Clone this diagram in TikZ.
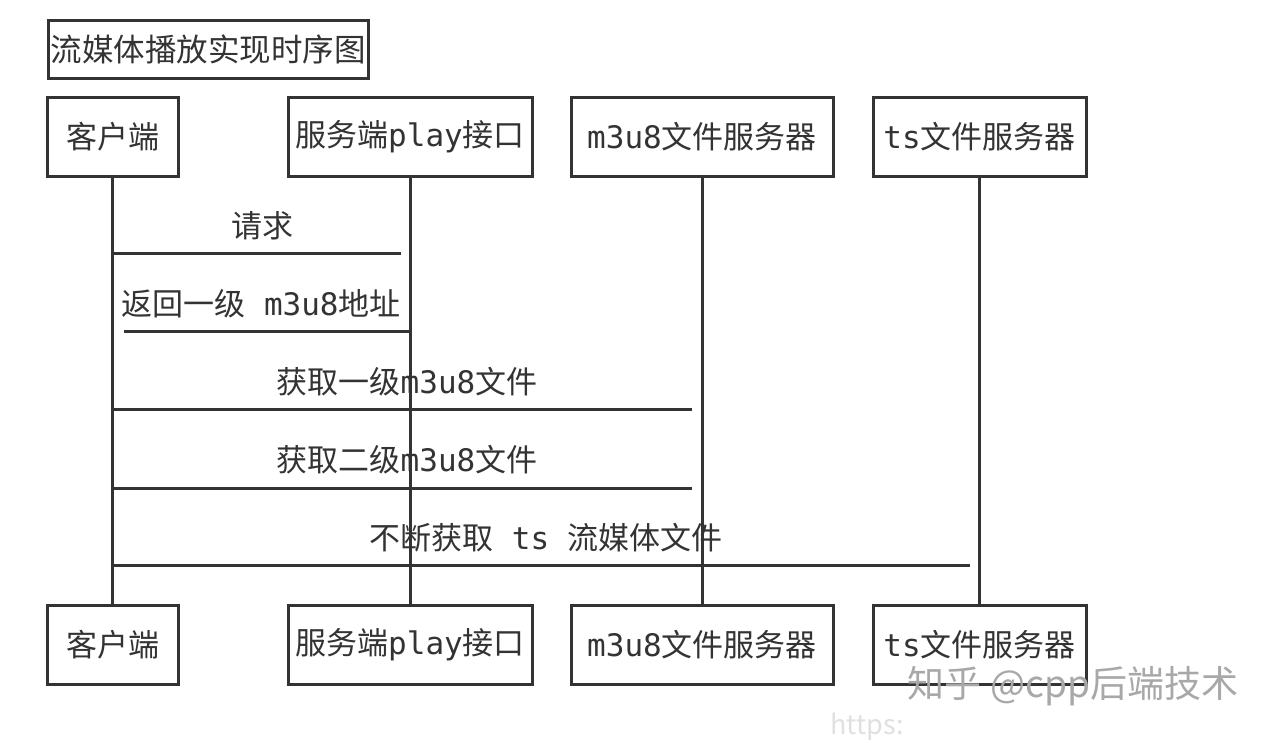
\documentclass[tikz,border=0pt]{standalone}
\usepackage{fontspec}
\setmainfont{Noto Sans CJK SC}
\newfontfamily\monof{DejaVu Sans Mono}
\newcommand{\lt}[1]{{\monof #1}}
\definecolor{ink}{HTML}{333333}
\definecolor{wm}{HTML}{A8A8A8}
\begin{document}
\begin{tikzpicture}[x=1pt,y=-1pt,
  txt/.style={text=ink, font=\fontsize{31}{31}\selectfont},
  box/.style={draw=ink, line width=3pt, inner sep=0pt, txt},
  life/.style={draw=ink, line width=3pt},
  msg/.style={draw=ink, line width=3pt},
  lbl/.style={txt, inner sep=0pt, anchor=center}]
\fill[white] (0,0) rectangle (1276,742);
\useasboundingbox (0,0) rectangle (1276,742);

% title
\node[box, minimum width=320, minimum height=58, font=\fontsize{31.5}{31.5}\selectfont] (title) at (208,49) {流媒体播放实现时序图};

% top participants
\node[box, minimum width=131, minimum height=79] (c1) at (112.5,136.5) {客户端};
\node[box, minimum width=244, minimum height=79] (s1) at (410,136.5) {服务端\lt{play}接口};
\node[box, minimum width=262, minimum height=79] (m1) at (702,136.5) {\lt{m3u8}文件服务器};
\node[box, minimum width=213, minimum height=79] (t1) at (979.5,136.5) {\lt{ts}文件服务器};

% bottom participants
\node[box, minimum width=131, minimum height=79] (c2) at (112.5,644.5) {客户端};
\node[box, minimum width=244, minimum height=79] (s2) at (410,644.5) {服务端\lt{play}接口};
\node[box, minimum width=262, minimum height=79] (m2) at (702,644.5) {\lt{m3u8}文件服务器};
\node[box, minimum width=213, minimum height=79] (t2) at (979.5,644.5) {\lt{ts}文件服务器};

% lifelines
\draw[life] (c1.south) -- (c2.north);
\draw[life] (s1.south) -- (s2.north);
\draw[life] (m1.south) -- (m2.north);
\draw[life] (t1.south) -- (t2.north);

% message end points
\coordinate (a1) at (c1.south |- 0,253);
\coordinate (b1) at ([xshift=-9pt]s1.south |- 0,253);
\coordinate (a2) at ([xshift=11pt]c1.south |- 0,331);
\coordinate (b2) at (s1.south |- 0,331);
\coordinate (a3) at (c1.south |- 0,409);
\coordinate (b3) at ([xshift=-10pt]m1.south |- 0,409);
\coordinate (a4) at (c1.south |- 0,488);
\coordinate (b4) at ([xshift=-10pt]m1.south |- 0,488);
\coordinate (a5) at (c1.south |- 0,565);
\coordinate (b5) at ([xshift=-10pt]t1.south |- 0,565);

\draw[msg] (a1) -- (b1);
\draw[msg] (a2) -- (b2);
\draw[msg] (a3) -- (b3);
\draw[msg] (a4) -- (b4);
\draw[msg] (a5) -- (b5);

% labels
\node[lbl] (l1) at (262,226) {请求};
\node[lbl] (l2) at (261,304) {返回一级\lt{ m3u8}地址};
\node[lbl] (l3) at (407,382) {获取一级\lt{m3u8}文件};
\node[lbl] (l4) at (407,460) {获取二级\lt{m3u8}文件};
\node[lbl] (l5) at (546,538) {不断获取\lt{ ts }流媒体文件};

% watermark
\node[text=wm, inner sep=0pt, font=\fontsize{37}{37}\selectfont] (wm1) at (1073,686) {知乎 @cpp后端技术};
\node[text=black!12, inner sep=0pt, font=\fontsize{27}{27}\selectfont] (wm2) at (867,727) {https:};
\end{tikzpicture}
\end{document}
